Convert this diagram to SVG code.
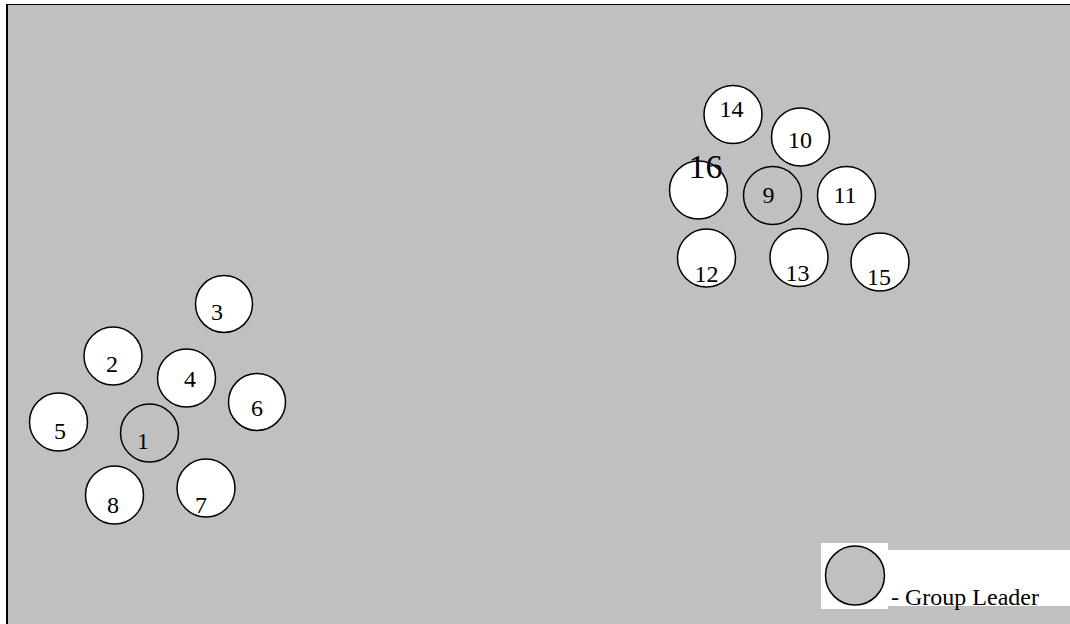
<svg xmlns="http://www.w3.org/2000/svg" width="1070" height="624" viewBox="0 0 1070 624">
<style>
.n{stroke:#000;stroke-width:1.5;fill:#fff}
.l{stroke:#000;stroke-width:1.5;fill:#c0c0c0}
text{font-family:"Liberation Serif","Times New Roman",serif;font-size:24px;fill:#000;text-anchor:middle}
</style>
<rect x="0" y="0" width="1070" height="624" fill="#fff"/>
<rect x="7" y="4" width="1063" height="620" fill="#c0c0c0"/>
<line x1="6" y1="4.5" x2="1070" y2="4.5" stroke="#000" stroke-width="1.2"/>
<line x1="7" y1="4" x2="7" y2="624" stroke="#000" stroke-width="2"/>
<g id="connectors"></g>
<g id="node1"><circle class="l" cx="149.5" cy="433" r="29"/><text x="143" y="449">1</text></g>
<g id="node2"><circle class="n" cx="113" cy="356" r="29"/><text x="112" y="372">2</text></g>
<g id="node3"><circle class="n" cx="224" cy="304" r="28.5"/><text x="217" y="320">3</text></g>
<g id="node4"><circle class="n" cx="186.5" cy="378" r="29"/><text x="190" y="387">4</text></g>
<g id="node5"><circle class="n" cx="58.5" cy="422" r="29"/><text x="60" y="439">5</text></g>
<g id="node6"><circle class="n" cx="257" cy="402" r="28.5"/><text x="257" y="416">6</text></g>
<g id="node7"><circle class="n" cx="206" cy="488" r="29"/><text x="201" y="513">7</text></g>
<g id="node8"><circle class="n" cx="114.5" cy="495" r="29"/><text x="113" y="513">8</text></g>
<g id="node9"><circle class="l" cx="772.5" cy="195.5" r="29"/><text x="768.5" y="203">9</text></g>
<g id="node10"><circle class="n" cx="800.5" cy="137" r="29"/><text x="800" y="148">10</text></g>
<g id="node11"><circle class="n" cx="846.5" cy="195.5" r="29"/><text x="845" y="203">11</text></g>
<g id="node12"><circle class="n" cx="706.5" cy="258" r="29"/><text x="706.5" y="282">12</text></g>
<g id="node13"><circle class="n" cx="799" cy="257.5" r="29"/><text x="797.5" y="281">13</text></g>
<g id="node14"><circle class="n" cx="733" cy="114.5" r="29"/><text x="731.5" y="117">14</text></g>
<g id="node15"><circle class="n" cx="880" cy="262" r="29"/><text x="879" y="285">15</text></g>
<g id="node16"><circle class="n" cx="698.5" cy="190" r="29"/><text x="705.5" y="178" style="font-size:34px">16</text></g>
<g id="legend">
<rect x="821" y="543" width="67" height="66" fill="#fff"/>
<rect x="887" y="550" width="183" height="56" fill="#fff"/>
<circle class="l" cx="855" cy="575.5" r="29.5"/>
<text x="891" y="605" style="text-anchor:start">- Group Leader</text>
</g>
</svg>
